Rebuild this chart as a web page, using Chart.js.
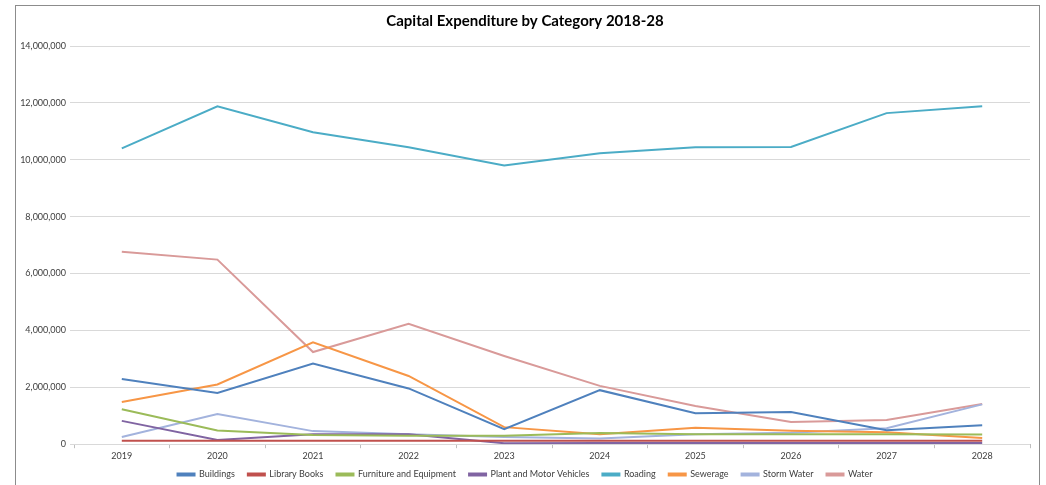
<!DOCTYPE html>
<html>
<head>
<meta charset="utf-8">
<script src="https://cdn.jsdelivr.net/npm/chart.js@4"></script>
<style>
html,body{margin:0;padding:0;background:#fff;}
#wrap{position:relative;width:1046px;height:485px;}
</style>
</head>
<body>
<div id="wrap"><canvas id="c" width="1046" height="485"></canvas></div>
<script>
const years = ["2019","2020","2021","2022","2023","2024","2025","2026","2027","2028"];
const yTicks = [0,2000000,4000000,6000000,8000000,10000000,12000000,14000000];

const buildings   = [2290000,1800000,2840000,1960000,530000,1900000,1090000,1130000,490000,670000];
const libraryBooks= [120000,120000,120000,120000,120000,120000,120000,120000,120000,120000];
const furniture   = [1230000,480000,320000,300000,300000,390000,350000,350000,350000,340000];
const plant       = [820000,150000,350000,350000,30000,40000,40000,40000,40000,40000];
const roading     = [10400000,11880000,10970000,10440000,9800000,10230000,10440000,10450000,11640000,11880000];
const sewerage    = [1480000,2100000,3580000,2400000,600000,350000,580000,470000,420000,220000];
const stormWater  = [250000,1060000,460000,350000,250000,200000,350000,400000,560000,1400000];
const water       = [6770000,6490000,3240000,4230000,3100000,2050000,1340000,780000,850000,1410000];

const seriesNames = ["Buildings","Library Books","Furniture and Equipment","Plant and Motor Vehicles","Roading","Sewerage","Storm Water","Water"];
const seriesData  = [buildings,libraryBooks,furniture,plant,roading,sewerage,stormWater,water];
const seriesColors= ["#4F81BD","#C0504D","#9BBB59","#8064A2","#4BACC6","#F79646","#A3B3DD","#D99A99"];

const borderPlugin = {
  id:'outerBorder',
  beforeDraw(chart){
    const ctx = chart.ctx;
    ctx.save();
    ctx.fillStyle='#fff';
    ctx.fillRect(0,0,chart.width,chart.height);
    ctx.strokeStyle='#8c8c8c';
    ctx.lineWidth=1;
    ctx.strokeRect(15.5,5.5,1024,490);
    ctx.restore();
  },
  afterLayout(chart){
    const lg = chart.legend;
    if(lg){ lg.top -= 6; lg.bottom -= 6; }
  }
};

new Chart(document.getElementById('c'),{
  type:'line',
  data:{
    labels:years,
    datasets:seriesNames.map((n,i)=>({
      label:n,
      data:seriesData[i],
      borderColor:seriesColors[i],
      backgroundColor:seriesColors[i],
      borderWidth:2,
      pointRadius:0,
      tension:0,
      fill:false
    }))
  },
  plugins:[borderPlugin],
  options:{
    responsive:false,
    animation:false,
    layout:{padding:{left:20,right:16,top:8,bottom:-10}},
    plugins:{
      title:{display:true,text:'Capital Expenditure by Category 2018-28',color:'#000',
        font:{family:'Lato',size:15,weight:'bold'},padding:{top:4,bottom:16}},
      legend:{position:'bottom',labels:{boxWidth:17,boxHeight:2,color:'#404040',padding:13,
        font:{family:'Lato',size:9}}},
      tooltip:{enabled:false}
    },
    scales:{
      x:{
        offset:true,
        grid:{offset:true,drawOnChartArea:false,tickLength:4,color:'#bfbfbf'},
        border:{display:false},
        ticks:{color:'#404040',font:{family:'Lato',size:9},padding:2}
      },
      y:{
        min:0,max:14000000,
        afterBuildTicks(axis){axis.ticks=yTicks.map(v=>({value:v}));},
        afterFit(axis){axis.width=54;},
        grid:{color:'#d9d9d9',tickLength:4},
        border:{display:false},
        ticks:{color:'#404040',font:{family:'Lato',size:9},padding:4,
          callback:v=>v.toLocaleString('en-US')}
      }
    }
  }
});
</script>
</body>
</html>
